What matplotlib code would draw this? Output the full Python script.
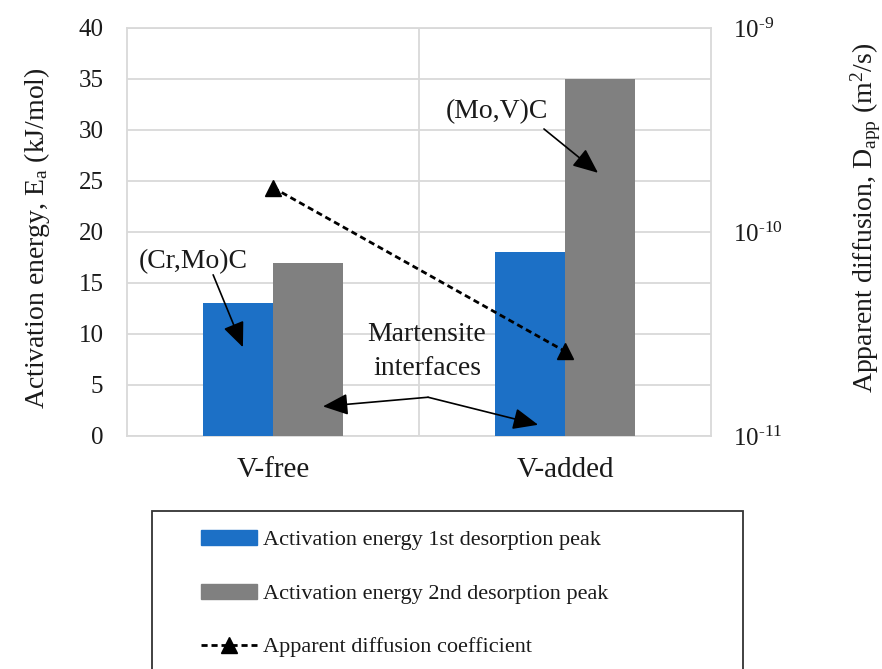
import matplotlib
matplotlib.use("Agg")
import matplotlib.pyplot as plt
from matplotlib.patches import Rectangle, Patch
from matplotlib.lines import Line2D
from matplotlib.ticker import LogLocator, FuncFormatter, NullLocator, MultipleLocator
import numpy as np

plt.rcParams['font.family'] = ['Liberation Serif', 'DejaVu Serif']
plt.rcParams['mathtext.fontset'] = 'custom'
plt.rcParams['mathtext.rm'] = 'Liberation Serif'
plt.rcParams['mathtext.it'] = 'Liberation Serif:italic'
plt.rcParams['mathtext.bf'] = 'Liberation Serif:bold'

# Data
categories = ["V-free", "V-added"]
ea_first_peak = [13, 18]          # kJ/mol
ea_second_peak = [17, 35]         # kJ/mol
d_app = [1.65e-10, 2.6e-11]       # m^2/s

BLUE = "#1c70c6"
GRAY = "#808080"
GRID = "#d9d9d9"
TXT = "#1a1a1a"

W, H = 882, 669
fig = plt.figure(figsize=(W / 100, H / 100), dpi=100)
ax = fig.add_axes([127 / W, 1 - 436 / H, (711 - 127) / W, (436 - 28) / H])

x = np.arange(len(categories))
bw = 0.24
ax.bar(x - bw / 2, ea_first_peak, bw, color=BLUE, zorder=3)
ax.bar(x + bw / 2, ea_second_peak, bw, color=GRAY, zorder=3)

ax.set_xlim(-0.5, 1.5)
ax.set_ylim(0, 40)
ax.yaxis.set_major_locator(MultipleLocator(5))
ax.set_xticks(x)
ax.set_xticklabels(categories)
ax.set_axisbelow(True)
ax.grid(axis='y', color=GRID, lw=1.3)
ax.axvline(0.5, color=GRID, lw=1.3, zorder=0)
for s in ax.spines.values():
    s.set_color(GRID)
    s.set_linewidth(1.3)
ax.tick_params(axis='both', length=0, colors=TXT)
ax.tick_params(axis='y', pad=17, labelsize=18)
ax.tick_params(axis='x', pad=15, labelsize=21)
ax.set_ylabel("Activation energy, E$_{\\rm a}$ (kJ/mol)", fontsize=20, labelpad=19, color=TXT)
ax.yaxis.label.set_y(0.485)

# Diffusion coefficient on log scale
ax2 = ax.twinx()
ax2.set_yscale('log')
ax2.set_ylim(1e-11, 1e-9)
ax2.yaxis.set_major_locator(LogLocator(base=10, numticks=5))
ax2.yaxis.set_major_formatter(
    FuncFormatter(lambda v, p: r"10$^{\text{%d}}$" % int(round(np.log10(v)))))
ax2.yaxis.set_minor_locator(NullLocator())
ax2.tick_params(axis='y', length=0, labelsize=18, pad=16, colors=TXT)
for s in ax2.spines.values():
    s.set_visible(False)
ax2.plot(x, d_app, color='black', ls=(0, (2.2, 1.4)), lw=2.0, marker='^',
         markersize=12, zorder=5)
ax2.set_ylabel("Apparent diffusion, D$_{\\rm app}$ (m$^2$/s)", fontsize=20,
               labelpad=47, color=TXT)
ax2.yaxis.label.set_y(0.534)

# Annotations
arrow = dict(arrowstyle='-|>,head_length=0.7,head_width=0.3', color='black', lw=1.2,
             mutation_scale=22, shrinkA=0, shrinkB=0)
ax.annotate("", xy=(-0.103, 8.7), xytext=(-0.205, 15.8), arrowprops=arrow, zorder=6)
ax.text(-0.274, 17.06, "(Cr,Mo)C", fontsize=20, ha='center', va='center', color=TXT, zorder=6)
ax.annotate("", xy=(1.113, 25.8), xytext=(0.928, 30.1), arrowprops=arrow, zorder=6)
ax.text(0.767, 31.8, "(Mo,V)C", fontsize=20, ha='center', va='center', color=TXT, zorder=6)
ax.text(0.527, 8.3, "Martensite\ninterfaces", fontsize=20, ha='center', va='center',
        linespacing=1.45, color=TXT, zorder=6)
ax.annotate("", xy=(0.171, 2.9), xytext=(0.531, 3.8), arrowprops=arrow, zorder=6)
ax.annotate("", xy=(0.908, 1.1), xytext=(0.531, 3.8), arrowprops=arrow, zorder=6)

# Legend box below the plot
fig.patches.append(Rectangle((152 / W, -0.05), (743 - 152) / W, (1 - 511 / H) + 0.05,
                             transform=fig.transFigure, fill=False,
                             edgecolor='#333333', lw=1.3, clip_on=False))
handles = [Patch(color=BLUE), Patch(color=GRAY),
           Line2D([], [], color='black', ls=(0, (2.2, 1.4)), lw=2.0, marker='^', markersize=11)]
labels = ["Activation energy 1st desorption peak",
          "Activation energy 2nd desorption peak",
          "Apparent diffusion coefficient"]
fig.legend(handles, labels, loc='upper left', bbox_to_anchor=(190 / W, 1 - 519 / H),
           frameon=False, fontsize=16, handlelength=2.5, handleheight=0.65,
           handletextpad=0.3, labelspacing=1.5, borderpad=0, labelcolor=TXT)

fig.savefig("out.png", dpi=100)
